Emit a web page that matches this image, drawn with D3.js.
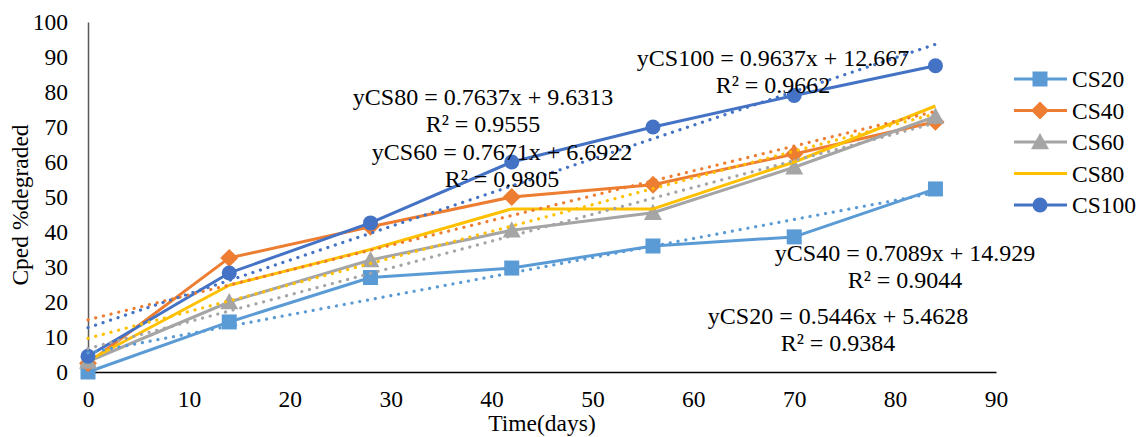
<!DOCTYPE html>
<html>
<head>
<meta charset="utf-8">
<script src="https://cdn.jsdelivr.net/npm/d3@7"></script>
<style>
  html, body { margin: 0; padding: 0; background: #fff; }
  svg { display: block; font-family: "Liberation Serif", "Times New Roman", serif; }
</style>
</head>
<body>
<svg id="chart" width="1138" height="437"></svg>
<script>
// Sampling days
const days = [0, 14, 28, 42, 56, 70, 84];

// Percent degraded per sample
const cs20  = [0, 14.3, 27, 29.7, 36, 38.6, 52.3];
const cs40  = [2.5, 32.6, 41.5, 50, 53.5, 62.3, 71.5];
const cs60  = [3, 20, 32, 40.5, 45.5, 58.5, 73];
const cs80  = [3.2, 24.8, 35, 46.6, 46.6, 60, 76];
const cs100 = [4.5, 28.3, 42.6, 60, 70, 79, 87.5];

const seriesNames = ["CS20", "CS40", "CS60", "CS80", "CS100"];
const seriesValues = [cs20, cs40, cs60, cs80, cs100];
const seriesColors = ["#5B9BD5", "#ED7D31", "#A5A5A5", "#FFC000", "#4472C4"];
const seriesMarkers = ["square", "diamond", "triangle", "none", "circle"];

// Linear trend fits (slope, intercept, R²)
const trendSlopes = [0.5446, 0.7089, 0.7671, 0.7637, 0.9637];
const trendIntercepts = [5.4628, 14.929, 6.6922, 9.6313, 12.667];
const trendR2 = ["0.9384", "0.9044", "0.9805", "0.9555", "0.9662"];

const xTicks = [0, 10, 20, 30, 40, 50, 60, 70, 80, 90];
const yTicks = [0, 10, 20, 30, 40, 50, 60, 70, 80, 90, 100];

const svg = d3.select("#chart");
const x = d3.scaleLinear().domain([0, 90]).range([88, 996]);
const y = d3.scaleLinear().domain([0, 100]).range([372, 22]);

const fontSize = 23.5;
const eqFontSize = 24;

// Axes
const yAxis = svg.append("g")
  .attr("transform", `translate(${x(0)},0)`)
  .call(d3.axisLeft(y).tickValues(yTicks).tickSize(0).tickPadding(20));
yAxis.select(".domain").attr("stroke", "#595959").attr("stroke-width", 1.5);
yAxis.selectAll("text").attr("font-size", fontSize).attr("fill", "#000")
  .attr("font-family", "Liberation Serif");

const xAxis = svg.append("g")
  .attr("transform", `translate(0,${y(0)})`)
  .call(d3.axisBottom(x).tickValues(xTicks).tickSize(0).tickPadding(18));
xAxis.select(".domain").attr("stroke", "#000").attr("stroke-width", 1.5);
xAxis.selectAll("text").attr("font-size", fontSize).attr("fill", "#000")
  .attr("font-family", "Liberation Serif");

// Axis titles
svg.append("text")
  .attr("transform", `translate(28,${(y(0) + y(100)) / 2 + 8}) rotate(-90)`)
  .attr("text-anchor", "middle")
  .attr("font-size", fontSize)
  .text("Cped %degraded");

svg.append("text")
  .attr("x", (x(0) + x(90)) / 2)
  .attr("y", 431)
  .attr("text-anchor", "middle")
  .attr("font-size", fontSize)
  .text("Time(days)");

const line = d3.line().x(d => x(d[0])).y(d => y(d[1]));

function drawMarker(g, type, cx, cy, color, s) {
  if (type === "square") {
    g.append("rect").attr("x", cx - s / 2).attr("y", cy - s / 2)
      .attr("width", s).attr("height", s).attr("fill", color);
  } else if (type === "diamond") {
    const h = s * 0.6;
    g.append("path").attr("d", `M${cx},${cy - h}L${cx + h},${cy}L${cx},${cy + h}L${cx - h},${cy}Z`)
      .attr("fill", color);
  } else if (type === "triangle") {
    const h = s * 0.6;
    g.append("path").attr("d", `M${cx},${cy - h}L${cx + h},${cy + h * 0.8}L${cx - h},${cy + h * 0.8}Z`)
      .attr("fill", color);
  } else if (type === "circle") {
    g.append("circle").attr("cx", cx).attr("cy", cy).attr("r", s / 2).attr("fill", color);
  }
}

// Series lines and markers
const plot = svg.append("g");
seriesValues.forEach((vals, i) => {
  const pts = days.map((d, j) => [d, vals[j]]);
  plot.append("path")
    .attr("d", line(pts))
    .attr("fill", "none")
    .attr("stroke", seriesColors[i])
    .attr("stroke-width", 3)
    .attr("stroke-linejoin", "round");
  pts.forEach(p => drawMarker(plot, seriesMarkers[i], x(p[0]), y(p[1]), seriesColors[i], 15));
});

// Dotted trend lines
seriesValues.forEach((vals, i) => {
  const ends = [0, 84].map(d => [d, trendSlopes[i] * d + trendIntercepts[i]]);
  plot.append("path")
    .attr("d", line(ends))
    .attr("fill", "none")
    .attr("stroke", seriesColors[i])
    .attr("stroke-width", 3.2)
    .attr("stroke-linecap", "round")
    .attr("stroke-dasharray", "0.1 7.8");
});

// Trend equations
const eqPos = [
  { cx: 838, cy: 324 },  // CS20
  { cx: 905, cy: 261 },  // CS40
  { cx: 502, cy: 160 },  // CS60
  { cx: 483, cy: 105 },  // CS80
  { cx: 773, cy: 66 }    // CS100
];
seriesNames.forEach((name, i) => {
  const g = svg.append("g").attr("font-size", eqFontSize).attr("text-anchor", "middle");
  g.append("text").attr("x", eqPos[i].cx).attr("y", eqPos[i].cy)
    .text(`y${name} = ${trendSlopes[i]}x + ${trendIntercepts[i]}`);
  g.append("text").attr("x", eqPos[i].cx).attr("y", eqPos[i].cy + 27)
    .text(`R² = ${trendR2[i]}`);
});

// Legend
const legend = svg.append("g");
seriesNames.forEach((name, i) => {
  const ly = 79 + i * 31.5;
  legend.append("line").attr("x1", 1014).attr("x2", 1067).attr("y1", ly).attr("y2", ly)
    .attr("stroke", seriesColors[i]).attr("stroke-width", 3);
  drawMarker(legend, seriesMarkers[i], 1040, ly, seriesColors[i], 15);
  legend.append("text").attr("x", 1072).attr("y", ly + 8)
    .attr("font-size", fontSize).text(name);
});
</script>
</body>
</html>
